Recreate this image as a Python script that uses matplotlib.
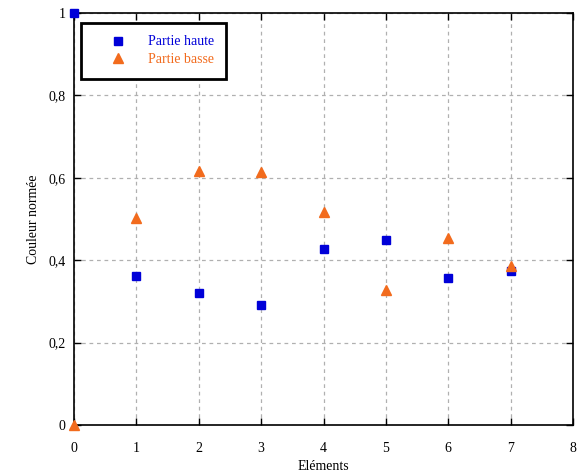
import matplotlib
matplotlib.use("Agg")
import matplotlib.pyplot as plt
from matplotlib.ticker import FuncFormatter

plt.rcParams['font.family'] = ['Liberation Serif', 'DejaVu Serif']

x = [0, 1, 2, 3, 4, 5, 6, 7]
haute = [1.0, 0.362, 0.320, 0.291, 0.428, 0.448, 0.357, 0.373]
basse = [0.0, 0.502, 0.617, 0.615, 0.518, 0.327, 0.454, 0.386]
xticks = [0, 1, 2, 3, 4, 5, 6, 7, 8]
yticks = [0, 0.2, 0.4, 0.6, 0.8, 1]

blue = '#0000d8'
orange = '#f26b1d'

fig = plt.figure(figsize=(5.85, 4.75), dpi=100)
ax = fig.add_axes([74/585, 1-425/475, 499/585, 412/475])

ax.plot(x, haute, 's', color=blue, markersize=5.5, clip_on=False, zorder=5, label='Partie haute')
ax.plot(x, basse, '^', color=orange, markersize=7, clip_on=False, zorder=5, label='Partie basse')

ax.set_xlim(0, 8)
ax.set_ylim(0, 1)
ax.set_xticks(xticks)
ax.set_yticks(yticks)
ax.yaxis.set_major_formatter(FuncFormatter(lambda v, p: ('%g' % v).replace('.', ',')))
ax.tick_params(direction='in', top=True, right=True, length=5, width=1, labelsize=10, colors='black')
ax.tick_params(axis='x', pad=12)
ax.tick_params(axis='y', pad=6)
ax.grid(True, color='#b0b0b0', linestyle=(0, (3, 3)), linewidth=0.9)
for s in ax.spines.values():
    s.set_linewidth(1.2)
ax.set_xlabel('Eléments', fontsize=10, labelpad=4)
ax.set_ylabel('Couleur normée', fontsize=10, labelpad=6)

leg = ax.legend(loc='upper left', bbox_to_anchor=(0.014, 0.976), borderaxespad=0, fontsize=10,
                frameon=True, fancybox=False, edgecolor='black', framealpha=1, markerfirst=True,
                handlelength=3.6, handletextpad=0.3, borderpad=0.9, labelspacing=0.35)
leg.get_frame().set_linewidth(2)
for t, c in zip(leg.get_texts(), [blue, orange]):
    t.set_color(c)

fig.savefig('out.png', dpi=100)
